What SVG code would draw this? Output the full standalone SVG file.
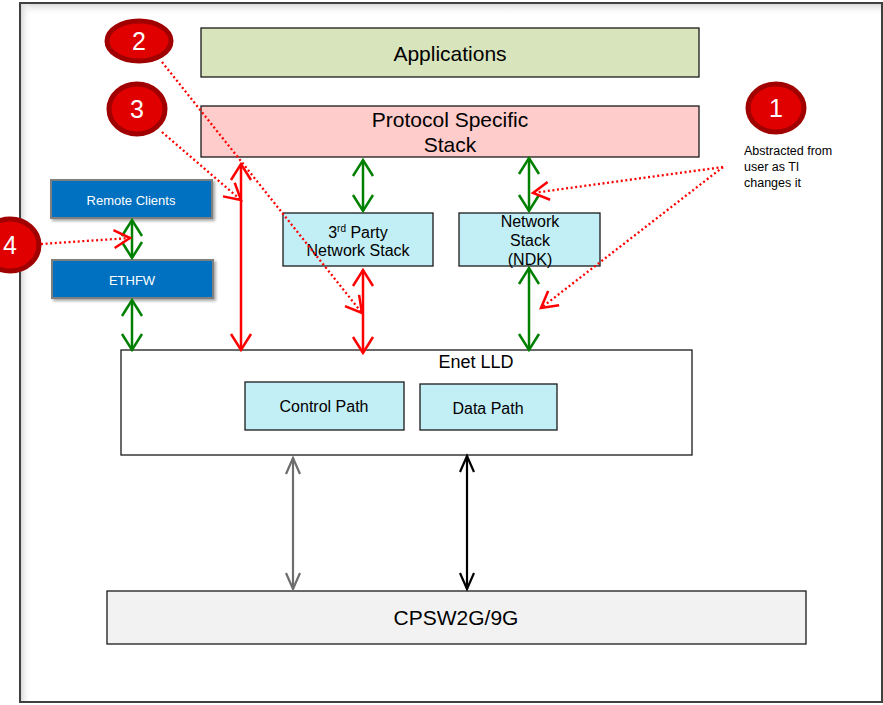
<svg xmlns="http://www.w3.org/2000/svg" width="883" height="705" viewBox="0 0 883 705">
<style>
text{font-family:"Liberation Sans",Arial,sans-serif;fill:#000}
.box{stroke:#1a1a1a;stroke-width:1.3}
.blue{fill:#0070c0;stroke:#7f7f7f;stroke-width:2}
.wt{fill:#fff;font-size:13px;text-anchor:middle}
.mid{text-anchor:middle}
.cir{fill:#e00000;stroke:#a00000;stroke-width:5}
.num{fill:#fff;font-size:25px;text-anchor:middle}
.g{stroke:#008000;stroke-width:2.5;fill:none;marker-start:url(#mg);marker-end:url(#mg)}
.r{stroke:#ff0000;stroke-width:2.5;fill:none;marker-start:url(#mr);marker-end:url(#mr)}
.dot{stroke:#ff0000;stroke-width:2.3;fill:none;stroke-dasharray:2 2.6;marker-end:url(#md)}
</style>
<defs>
<marker id="mg" markerUnits="userSpaceOnUse" markerWidth="22" markerHeight="26" viewBox="-3 -13 22 26" refX="16" refY="0" orient="auto-start-reverse"><path d="M0,-10 L16,0 L0,10" fill="none" stroke="#008000" stroke-width="2.5"/></marker>
<marker id="mr" markerUnits="userSpaceOnUse" markerWidth="22" markerHeight="26" viewBox="-3 -13 22 26" refX="16" refY="0" orient="auto-start-reverse"><path d="M0,-10 L16,0 L0,10" fill="none" stroke="#ff0000" stroke-width="2.5"/></marker>
<marker id="mgr" markerUnits="userSpaceOnUse" markerWidth="22" markerHeight="26" viewBox="-3 -13 22 26" refX="16" refY="0" orient="auto-start-reverse"><path d="M0,-7 L16,0 L0,7" fill="none" stroke="#6d6d6d" stroke-width="2.2"/></marker>
<marker id="mk" markerUnits="userSpaceOnUse" markerWidth="22" markerHeight="26" viewBox="-3 -13 22 26" refX="16" refY="0" orient="auto-start-reverse"><path d="M0,-7 L16,0 L0,7" fill="none" stroke="#000" stroke-width="2.2"/></marker>
<marker id="md" markerUnits="userSpaceOnUse" markerWidth="22" markerHeight="26" viewBox="-3 -13 22 26" refX="16" refY="0" orient="auto"><path d="M0,-9 L16,0 L0,9" fill="none" stroke="#ff0000" stroke-width="2.5" stroke-dasharray="none"/></marker>
<linearGradient id="shT" x1="0" y1="0" x2="0" y2="1"><stop offset="0" stop-color="#d9d9d9"/><stop offset="1" stop-color="#fff" stop-opacity="0"/></linearGradient>
<linearGradient id="shL" x1="0" y1="0" x2="1" y2="0"><stop offset="0" stop-color="#d9d9d9"/><stop offset="1" stop-color="#fff" stop-opacity="0"/></linearGradient>
<filter id="sh" x="-10%" y="-20%" width="130%" height="160%"><feDropShadow dx="2" dy="2" stdDeviation="1.5" flood-color="#000" flood-opacity="0.35"/></filter>
</defs>
<rect width="883" height="705" fill="#fff"/>
<g id="frame">
<rect x="21" y="4" width="862" height="12" fill="url(#shT)"/>
<rect x="21" y="4" width="10" height="697" fill="url(#shL)"/>
<rect x="20" y="3" width="862" height="699" fill="none" stroke="#404040" stroke-width="2"/>
</g>
<g id="applications"><rect class="box" x="201" y="28" width="498" height="49" fill="#d8e4bc"/><text class="mid" x="450" y="61" font-size="21">Applications</text></g>
<g id="protocol-stack"><rect class="box" x="201" y="106" width="498" height="51" fill="#ffcccc"/><text class="mid" x="450" y="127" font-size="21">Protocol Specific</text><text class="mid" x="450" y="152" font-size="21">Stack</text></g>
<g id="third-party"><rect class="box" x="283" y="213" width="150" height="53" fill="#c2eef6"/><text class="mid" x="358" y="238" font-size="16">3<tspan font-size="10" dy="-6">rd</tspan><tspan dy="6"> Party</tspan></text><text class="mid" x="358" y="256" font-size="16">Network Stack</text></g>
<g id="ndk"><rect class="box" x="459" y="213" width="141" height="53" fill="#c2eef6"/><text class="mid" x="530" y="227" font-size="16">Network</text><text class="mid" x="530" y="246" font-size="16">Stack</text><text class="mid" x="530" y="265" font-size="16">(NDK)</text></g>
<g id="remote-clients"><rect class="blue" x="51" y="180" width="161" height="38" filter="url(#sh)"/><text class="wt" x="131" y="205">Remote Clients</text></g>
<g id="ethfw"><rect class="blue" x="52" y="260" width="161" height="38" filter="url(#sh)"/><text class="wt" x="132" y="285">ETHFW</text></g>
<g id="enet-lld"><rect class="box" x="121" y="350" width="571" height="105" fill="#fff"/><text class="mid" x="476" y="368" font-size="18">Enet LLD</text></g>
<g id="control-path"><rect class="box" x="245" y="382" width="159" height="48" fill="#c2eef6"/><text class="mid" x="324" y="412" font-size="16">Control Path</text></g>
<g id="data-path"><rect class="box" x="420" y="384" width="137" height="46" fill="#c2eef6"/><text class="mid" x="488" y="414" font-size="16">Data Path</text></g>
<g id="cpsw"><rect class="box" x="107" y="591" width="699" height="53" fill="#f2f2f2"/><text class="mid" x="456" y="625" font-size="21">CPSW2G/9G</text></g>
<g id="callout-1"><ellipse class="cir" cx="776" cy="108" rx="28" ry="24"/><text class="num" x="776" y="117">1</text>
<text x="744" y="155" font-size="12.5">Abstracted from</text><text x="744" y="171" font-size="12.5">user as TI</text><text x="744" y="187" font-size="12.5">changes it</text></g>
<g id="callout-2"><ellipse class="cir" cx="139" cy="41" rx="32" ry="20"/><text class="num" x="139" y="50">2</text></g>
<g id="callout-3"><ellipse class="cir" cx="137" cy="109" rx="28" ry="25"/><text class="num" x="137" y="118">3</text></g>
<g id="callout-4"><ellipse class="cir" cx="10" cy="245" rx="29" ry="26"/><text class="num" x="10" y="254">4</text></g>
<g id="connectors">
<line class="g" x1="132" y1="220" x2="132" y2="258"/>
<line class="g" x1="132" y1="300" x2="132" y2="350"/>
<line class="g" x1="363" y1="160" x2="363" y2="211"/>
<line class="g" x1="529" y1="158" x2="529" y2="211"/>
<line class="g" x1="529" y1="268" x2="529" y2="350"/>
<line class="r" x1="241" y1="164" x2="241" y2="350"/>
<line class="r" x1="363" y1="270" x2="363" y2="353"/>
<line x1="293" y1="458" x2="293" y2="589" stroke="#6d6d6d" stroke-width="2.2" marker-start="url(#mgr)" marker-end="url(#mgr)"/>
<line x1="467" y1="456" x2="467" y2="589" stroke="#000" stroke-width="2.2" marker-start="url(#mk)" marker-end="url(#mk)"/>
<line class="dot" x1="162" y1="62" x2="362" y2="313"/>
<line class="dot" x1="162" y1="132" x2="241" y2="200"/>
<line class="dot" x1="41" y1="244" x2="130" y2="238"/>
<line class="dot" x1="723" y1="167" x2="533" y2="193"/>
<line class="dot" x1="723" y1="167" x2="541" y2="308"/>
</g>
</svg>
